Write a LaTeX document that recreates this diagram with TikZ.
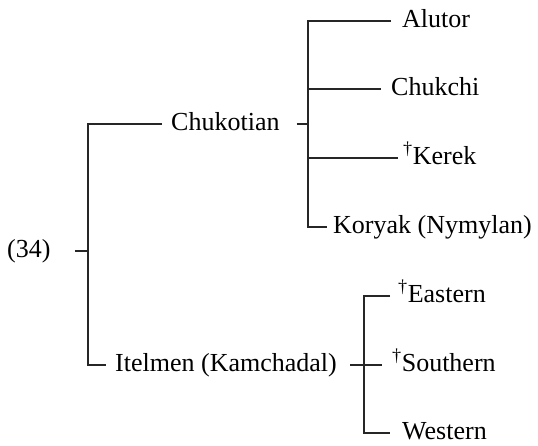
\documentclass[tikz,border=0pt]{standalone}
\usepackage{fontspec}
\setmainfont{Liberation Serif}
\begin{document}
\begin{tikzpicture}[x=1pt,y=-1pt,
  lab/.style={anchor=west,inner xsep=0pt,inner ysep=0pt,
    text height=19pt,text depth=7pt,font=\fontsize{26}{30}\selectfont},
  branch/.style={line width=1.15pt,black!85}]
\useasboundingbox (0,0) rectangle (538,445);

% labels
\node[lab] (ex)   at (7,251)   {(34)};
\node[lab] (chuk) at (171,124) {Chukotian};
\node[lab] (itel) at (115,365) {Itelmen (Kamchadal)};
\node[lab] (alu)  at (402,21)  {Alutor};
\node[lab] (chk)  at (391,89)  {Chukchi};
\node[lab] (ker)  at (403,158) {\textsuperscript{\textdagger}Kerek};
\node[lab] (kor)  at (333,227) {Koryak (Nymylan)};
\node[lab] (eas)  at (398,296) {\textsuperscript{\textdagger}Eastern};
\node[lab] (sou)  at (392,365) {\textsuperscript{\textdagger}Southern};
\node[lab] (wes)  at (402,433) {Western};

% junction points of the brackets
\coordinate (root) at (88,251);
\coordinate (cj)   at (308,124);
\coordinate (ij)   at (364,365);

% top-level bracket
\draw[branch] ([xshift=-13pt]root) -- (root);
\draw[branch] ([xshift=-9pt]chuk.west) -| (root) |- ([xshift=-9pt]itel.west);

% Chukotian bracket
\draw[branch] ([xshift=17pt]chuk.east) -- (cj);
\draw[branch] ([xshift=-11pt]alu.west) -| (cj) |- ([xshift=-6pt]kor.west);
\draw[branch] (cj |- chk.west) -- ([xshift=-10pt]chk.west);
\draw[branch] (cj |- ker.west) -- ([xshift=-5pt]ker.west);

% Itelmen bracket
\draw[branch] ([xshift=-8pt]eas.west) -| (ij) |- ([xshift=-12pt]wes.west);
\draw[branch] ([xshift=13pt]itel.east) -- ([xshift=-10pt]sou.west);
\end{tikzpicture}
\end{document}
